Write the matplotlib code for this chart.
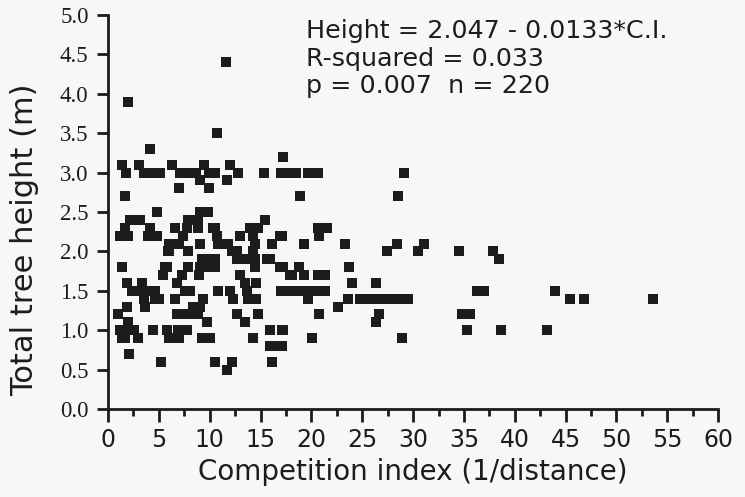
import matplotlib.pyplot as plt
from matplotlib.ticker import MultipleLocator

# Competition index (x) and total tree height (y)
competition = [
    11.6, 2.0, 10.7, 4.1, 17.2,
    1.35, 3.0, 6.3, 9.4, 12.0,
    1.8, 3.5, 4.3, 5.1, 7.1, 7.9, 8.7, 9.9, 10.5, 12.8, 15.3,
    17.0, 17.8, 18.5, 19.7, 20.6, 29.1,
    9.0, 11.7, 7.0, 9.9, 1.7, 18.9, 28.5,
    4.8, 9.0, 9.8, 2.2, 3.1, 7.9, 8.8, 15.4,
    1.7, 4.1, 6.6, 7.8, 8.8, 10.5, 14.0, 14.7, 20.6, 21.5,
    1.3, 2.0, 3.9, 4.8, 10.7, 13.0, 16.9, 17.1, 20.7, 14.3,
    6.0, 7.0, 9.0, 11.8, 14.5, 16.1, 19.3, 23.3, 28.4, 31.1, 10.8, 7.4,
    6.0, 7.9, 12.7, 12.2, 27.4, 30.5, 34.5, 37.9,
    9.2, 10.3, 13.5, 14.5, 15.6, 15.9, 38.4, 12.7, 10.5,
    1.4, 5.6, 7.9, 9.0, 10.5, 14.5, 16.9, 17.2, 18.8, 23.7, 5.8,
    5.4, 7.3, 8.9, 13.0, 17.9, 19.3, 20.6, 21.3, 18.1,
    1.9, 6.8, 13.5, 14.6, 24.0, 26.4,
    2.4, 3.3, 4.6, 7.6, 8.1, 10.8, 13.7, 17.2, 17.0, 17.7, 18.4, 19.2, 19.9,
    20.5, 21.3, 36.3, 37.0, 44.0,
    3.5, 4.6, 6.6, 9.3, 13.8, 14.6, 19.7, 23.6, 24.8, 25.5, 26.1, 26.6, 27.3,
    28.0, 28.5, 29.5, 45.4, 46.8, 53.6,
    3.6, 1.9, 8.4, 9.0, 22.6,
    1.0, 6.8, 7.6, 8.8, 8.6, 12.7, 14.7, 20.7, 26.6, 34.8, 35.6,
    2.0, 9.7, 13.5, 26.4,
    1.2, 2.2, 4.4, 5.8, 6.9, 7.8, 15.9, 17.1, 17.2, 35.3, 38.6, 43.2,
    1.4, 2.9, 6.3, 9.2, 10.0, 14.3, 20.1, 28.9,
    15.9, 16.9, 17.1,
    2.1,
    5.2, 10.5, 12.2, 16.1,
    11.7,
    12.3, 9.5, 9.7, 1.2, 6.3, 5.9, 14.3, 12.0, 12.3, 2.6, 1.7, 6.0, 7.0,
    10.3, 3.3, 4.3, 5.0,
]
height = [
    4.4, 3.9, 3.5, 3.3, 3.2,
    3.1, 3.1, 3.1, 3.1, 3.1,
    3.0, 3.0, 3.0, 3.0, 3.0, 3.0, 3.0, 3.0, 3.0, 3.0, 3.0,
    3.0, 3.0, 3.0, 3.0, 3.0, 3.0,
    2.9, 2.9, 2.8, 2.8, 2.7, 2.7, 2.7,
    2.5, 2.5, 2.5, 2.4, 2.4, 2.4, 2.4, 2.4,
    2.3, 2.3, 2.3, 2.3, 2.3, 2.3, 2.3, 2.3, 2.3, 2.3,
    2.2, 2.2, 2.2, 2.2, 2.2, 2.2, 2.2, 2.2, 2.2, 2.2,
    2.1, 2.1, 2.1, 2.1, 2.1, 2.1, 2.1, 2.1, 2.1, 2.1, 2.1, 2.2,
    2.0, 2.0, 2.0, 2.0, 2.0, 2.0, 2.0, 2.0,
    1.9, 1.9, 1.9, 1.9, 1.9, 1.9, 1.9, 1.9, 1.9,
    1.8, 1.8, 1.8, 1.8, 1.8, 1.8, 1.8, 1.8, 1.8, 1.8, 1.8,
    1.7, 1.7, 1.7, 1.7, 1.7, 1.7, 1.7, 1.7, 1.7,
    1.6, 1.6, 1.6, 1.6, 1.6, 1.6,
    1.5, 1.5, 1.5, 1.5, 1.5, 1.5, 1.5, 1.5, 1.5, 1.5, 1.5, 1.5, 1.5,
    1.5, 1.5, 1.5, 1.5, 1.5,
    1.4, 1.4, 1.4, 1.4, 1.4, 1.4, 1.4, 1.4, 1.4, 1.4, 1.4, 1.4, 1.4,
    1.4, 1.4, 1.4, 1.4, 1.4, 1.4,
    1.3, 1.3, 1.3, 1.3, 1.3,
    1.2, 1.2, 1.2, 1.2, 1.2, 1.2, 1.2, 1.2, 1.2, 1.2, 1.2,
    1.1, 1.1, 1.1, 1.1,
    1.0, 1.0, 1.0, 1.0, 1.0, 1.0, 1.0, 1.0, 1.0, 1.0, 1.0, 1.0,
    0.9, 0.9, 0.9, 0.9, 0.9, 0.9, 0.9, 0.9,
    0.8, 0.8, 0.8,
    0.7,
    0.6, 0.6, 0.6, 0.6,
    0.5,
    2.0, 1.8, 1.9, 2.2, 2.1, 2.0, 2.0, 1.5, 1.4, 1.0, 0.9, 0.9, 0.9,
    2.3, 1.6, 1.5, 1.4,
]

x_ticks = list(range(0, 61, 5))
y_ticks = [i * 0.5 for i in range(11)]
stats_text = "Height = 2.047 - 0.0133*C.I.\nR-squared = 0.033\np = 0.007  n = 220"

bg = "#f7f7f5"
ink = "#1c1c1c"

fig = plt.figure(figsize=(7.45, 4.97), dpi=100, facecolor=bg)
ax = fig.add_axes([0.145, 0.177, 0.819, 0.793], facecolor=bg)

ax.scatter(competition, height, marker="s", s=42, color=ink, linewidths=0, clip_on=False)

ax.set_xlim(0, 60)
ax.set_ylim(0, 5)
ax.set_xticks(x_ticks)
ax.xaxis.set_minor_locator(MultipleLocator(2.5))
ax.set_yticks(y_ticks)
ax.set_yticklabels([f"{v:.1f}" for v in y_ticks], family="Liberation Serif", fontsize=16.5, color=ink)
ax.set_xticklabels([str(v) for v in x_ticks], fontsize=17, color=ink)

for side in ["top", "right"]:
    ax.spines[side].set_visible(False)
for side in ["left", "bottom"]:
    ax.spines[side].set_linewidth(2)
    ax.spines[side].set_color(ink)

ax.tick_params(axis="x", which="major", direction="out", length=9, width=2, color=ink, pad=5)
ax.tick_params(axis="x", which="minor", direction="out", length=5, width=2, color=ink)
ax.tick_params(axis="y", which="major", direction="out", length=8, width=2, color=ink, pad=6)

ax.set_xlabel("Competition index (1/distance)", fontsize=20, color=ink, labelpad=4)
ax.set_ylabel("Total tree height (m)", fontsize=22, color=ink)
ax.yaxis.set_label_coords(-0.113, 0.43)

ax.text(0.325, 0.99, stats_text, transform=ax.transAxes, fontsize=18.3, color=ink,
        va="top", ha="left", linespacing=1.2)

fig.savefig("out.png", dpi=100, facecolor=bg)
